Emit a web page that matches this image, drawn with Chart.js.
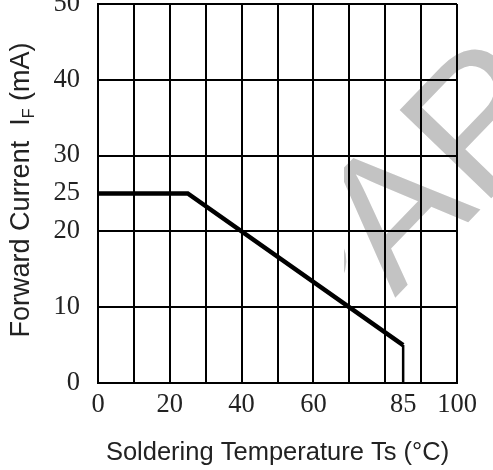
<!DOCTYPE html>
<html>
<head>
<meta charset="utf-8">
<script src="https://cdn.jsdelivr.net/npm/chart.js@4.4.1/dist/chart.umd.min.js"></script>
<style>
  html, body { margin: 0; padding: 0; background: #fff; overflow: hidden; }
  #wrap { position: relative; width: 493px; height: 470px; overflow: hidden; }
  #derating { position: absolute; left: 0; top: -30px; }
</style>
</head>
<body>
<div id="wrap"><canvas id="derating" width="493" height="500"></canvas></div>
<script>
// forward current derating vs soldering temperature
const tempC = [0, 25, 85, 85];
const currentMA = [25, 25, 5, 0];

const xTickLabels = [0, 20, 40, 60, 85, 100];
const xGridLines = [0, 10, 20, 30, 40, 50, 60, 70, 80, 90, 100];
const yTickLabels = [0, 10, 20, 25, 30, 40, 50];
const yGridLines = [0, 10, 20, 30, 40, 50];

const xTitle = 'Soldering Temperature Ts (°C)';
const yTitle = ['Forward Current  I', 'F', ' (mA)'];
const stampText = 'PARA';

const pts = tempC.map((t, i) => ({ x: t, y: currentMA[i] }));

const serif = 'Liberation Serif';
const sans = 'Liberation Sans';
const shiftY = 30;

// rotated y title with the subscript F
const yTitlePlugin = {
    id: 'yTitle',
    afterDraw(chart) {
        const ctx = chart.ctx;
        ctx.save();
        ctx.translate(22, 190 + shiftY);
        ctx.rotate(-Math.PI / 2);
        ctx.fillStyle = '#222';
        ctx.textBaseline = 'middle';
        ctx.textAlign = 'left';
        const big = '27px "' + sans + '"';
        const small = '16px "' + sans + '"';
        ctx.font = big;
        const w0 = ctx.measureText(yTitle[0]).width;
        const w2 = ctx.measureText(yTitle[2]).width;
        ctx.font = small;
        const w1 = ctx.measureText(yTitle[1]).width;
        let x = -(w0 + w1 + w2) / 2;
        ctx.font = big;
        ctx.fillText(yTitle[0], x, 0);
        x += w0;
        ctx.font = small;
        ctx.fillText(yTitle[1], x, 8);
        x += w1;
        ctx.font = big;
        ctx.fillText(yTitle[2], x, 0);
        ctx.restore();
    }
};

// grey stamp behind the grid
const stampPlugin = {
    id: 'stamp',
    beforeDraw(chart) {
        const ctx = chart.ctx;
        ctx.save();
        ctx.beginPath();
        ctx.rect(344, 0, chart.width - 344, chart.height);
        ctx.clip();
        ctx.font = '185px "' + sans + '"';
        ctx.fillStyle = '#c3c3c3';
        ctx.textBaseline = 'alphabetic';
        ctx.translate(400, 198 + shiftY);
        ctx.rotate(-46 * Math.PI / 180);
        const wP = ctx.measureText('P').width;
        const wA = ctx.measureText('A').width;
        ctx.fillText(stampText, -wP - wA / 2, 66);
        ctx.restore();
    }
};

new Chart(document.getElementById('derating'), {
    type: 'line',
    data: {
        datasets: [{
            data: pts.slice(0, 3),
            borderColor: '#000',
            borderWidth: 4.5,
            pointRadius: 0,
            tension: 0,
            borderJoinStyle: 'miter'
        }, {
            data: pts.slice(2),
            borderColor: '#000',
            borderWidth: 2.5,
            pointRadius: 0,
            tension: 0
        }]
    },
    options: {
        responsive: false,
        animation: false,
        layout: { padding: { top: 20, right: 36, left: 0, bottom: 0 } },
        plugins: {
            legend: { display: false },
            tooltip: { enabled: false }
        },
        scales: {
            x: {
                type: 'linear',
                min: 0,
                max: 100,
                afterBuildTicks(scale) {
                    const vals = [...new Set(xGridLines.concat(xTickLabels))].sort((a, b) => a - b);
                    scale.ticks = vals.map(v => ({ value: v }));
                },
                afterFit(scale) { scale.height = 87; },
                grid: {
                    color: c => xGridLines.includes(c.tick.value) ? '#000' : 'rgba(0,0,0,0)',
                    lineWidth: 2,
                    drawTicks: false
                },
                border: { display: true, color: '#000', width: 2 },
                ticks: {
                    autoSkip: false,
                    maxRotation: 0,
                    padding: 6,
                    color: '#222',
                    font: { family: serif, size: 26.5 },
                    callback: v => xTickLabels.includes(v) ? String(v) : ''
                },
                title: {
                    display: true,
                    text: xTitle,
                    color: '#222',
                    font: { family: sans, size: 25.5 },
                    padding: { top: 0, bottom: 2 }
                }
            },
            y: {
                type: 'linear',
                min: 0,
                max: 50,
                afterBuildTicks(scale) {
                    scale.ticks = yTickLabels.map(v => ({ value: v }));
                },
                afterFit(scale) { scale.width = 98; },
                grid: {
                    color: c => yGridLines.includes(c.tick.value) ? '#000' : 'rgba(0,0,0,0)',
                    lineWidth: 2,
                    drawTicks: false
                },
                border: { display: true, color: '#000', width: 2 },
                ticks: {
                    autoSkip: false,
                    padding: 18,
                    color: '#222',
                    font: { family: serif, size: 26.5 },
                    callback: v => String(v)
                }
            }
        }
    },
    plugins: [stampPlugin, yTitlePlugin]
});
</script>
</body>
</html>
